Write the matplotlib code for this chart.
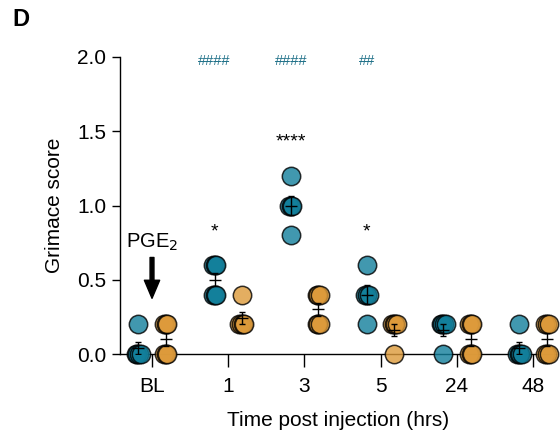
import numpy as np
import matplotlib
matplotlib.use('Agg')
import matplotlib.pyplot as plt

plt.rcParams.update({
    'font.family': ['Liberation Sans', 'DejaVu Sans'],
    'font.size': 15,
    'axes.linewidth': 1.0,
})

# data
timepoints = ['BL', '1', '3', '5', '24', '48']
pge2 = [
    [0.2, 0.0, 0.0, 0.0, 0.0],
    [0.6, 0.6, 0.6, 0.4, 0.4, 0.4],
    [1.2, 1.0, 1.0, 1.0, 0.8],
    [0.6, 0.4, 0.4, 0.4, 0.2],
    [0.2, 0.2, 0.2, 0.2, 0.0],
    [0.2, 0.0, 0.0, 0.0, 0.0],
]
vehicle = [
    [0.2, 0.2, 0.2, 0.0, 0.0, 0.0],
    [0.4, 0.2, 0.2, 0.2, 0.2],
    [0.4, 0.4, 0.4, 0.2, 0.2, 0.2],
    [0.2, 0.2, 0.2, 0.2, 0.0],
    [0.2, 0.2, 0.2, 0.0, 0.0, 0.0],
    [0.2, 0.2, 0.2, 0.0, 0.0, 0.0],
]
star_labels = ['', '*', '****', '*', '', '']
star_heights = [0, 0.82, 1.43, 0.82, 0, 0]
hash_labels = ['', '####', '####', '##', '', '']

TEAL = '#127f9b'
ORANGE = '#dd9a3a'
HASH_COL = '#1d6f87'

fig = plt.figure(figsize=(5.6, 4.34), dpi=100)
ax = fig.add_axes([120/560, 1 - 354/434, 436/560, 297/434])


def draw_group(xc, vals, color):
    vals = np.array(vals)
    # spread repeated values a little so they don't sit exactly on top
    for v in np.unique(vals):
        same = vals[vals == v]
        n = len(same)
        offs = (np.arange(n) - (n - 1) / 2) * 0.022
        ax.scatter(xc + offs, same, s=175, color=color, alpha=0.8,
                   edgecolor='black', linewidth=1.1, zorder=3, clip_on=False)
    m = vals.mean()
    sem = vals.std(ddof=1) / np.sqrt(len(vals))
    ax.errorbar(xc, m, yerr=sem, fmt='none', ecolor='black', elinewidth=1.0,
                capsize=2.2, capthick=1.0, zorder=4)
    ax.plot(xc, m, marker='_', color='black', markersize=8, mew=1.0, zorder=4)


for i in range(len(timepoints)):
    draw_group(i - 0.18, pge2[i], TEAL)
    draw_group(i + 0.18, vehicle[i], ORANGE)
    if star_labels[i]:
        ax.text(i - 0.18, star_heights[i], star_labels[i], ha='center', va='center',
                fontsize=14)
    if hash_labels[i]:
        ax.text(i - 0.18, 1.97, hash_labels[i], ha='center', va='center',
                fontsize=10.5, color=HASH_COL)

# PGE2 arrow at baseline
ax.text(0, 0.75, 'PGE$_2$', ha='center', va='center', fontsize=14.5)
ax.annotate('', xy=(0, 0.375), xytext=(0, 0.65),
            arrowprops=dict(facecolor='black', edgecolor='black', width=2.8,
                            headwidth=11, headlength=13))

ax.set_xlim(-0.42, 5.30)
ax.set_ylim(0, 2.0)
ax.set_xticks(range(len(timepoints)))
ax.set_xticklabels(timepoints)
ax.set_yticks([0, 0.5, 1.0, 1.5, 2.0])
ax.set_yticklabels(['0.0', '0.5', '1.0', '1.5', '2.0'])
ax.tick_params(axis='x', length=9.5, width=1.0, pad=7)
ax.tick_params(axis='y', length=6, width=1.0, pad=4)
ax.spines['top'].set_visible(False)
ax.spines['right'].set_visible(False)

ax.set_xlabel('Time post injection (hrs)', labelpad=11)
ax.set_ylabel('Grimace score', labelpad=9)

fig.text(12/560, 1 - 20/434, 'D', fontsize=17, fontweight='bold', va='center')

fig.savefig('out.png', dpi=100)
